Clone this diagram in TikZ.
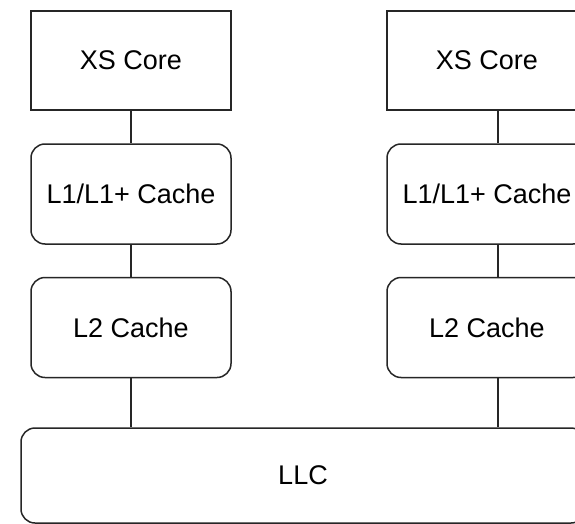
\documentclass[tikz,border=0pt]{standalone}
\usepackage{fontspec}
\setmainfont{Liberation Sans}
\begin{document}
\begin{tikzpicture}[x=1pt,y=-1pt,
  box/.style={draw=black!85,line width=1.5pt,minimum width=200pt,font=\fontsize{27}{32}\selectfont,inner sep=0pt},
  sqbox/.style={box,minimum height=99pt},
  rbox/.style={box,rounded corners=14pt,minimum height=100pt},
  link/.style={draw=black!85,line width=1.5pt}]
\useasboundingbox (0,0) rectangle (575,524);
\clip (0,0) rectangle (575,524);
\fill[white] (0,0) rectangle (575,524);
% left column
\node[sqbox] (lcore) at (131,60.5) {XS Core};
\node[rbox] (ll1) at (131,194) {L1/L1+ Cache};
\node[rbox] (ll2) at (131,327.5) {L2 Cache};
% right column
\node[sqbox] (rcore) at (487,60.5) {XS Core};
\node[rbox] (rl1) at (487,194) {L1/L1+ Cache};
\node[rbox] (rl2) at (487,327.5) {L2 Cache};
% LLC
\node[box,rounded corners=14pt,minimum width=564pt,minimum height=95pt] (llc) at (303,475.5) {LLC};
\coordinate (rx) at (498,0);
% connectors
\draw[link] (lcore) -- (ll1);
\draw[link] (ll1) -- (ll2);
\draw[link] (ll2) -- (ll2 |- llc.north);
\draw[link] (rcore.south -| rx) -- (rl1.north -| rx);
\draw[link] (rl1.south -| rx) -- (rl2.north -| rx);
\draw[link] (rl2.south -| rx) -- (llc.north -| rx);
\end{tikzpicture}
\end{document}
